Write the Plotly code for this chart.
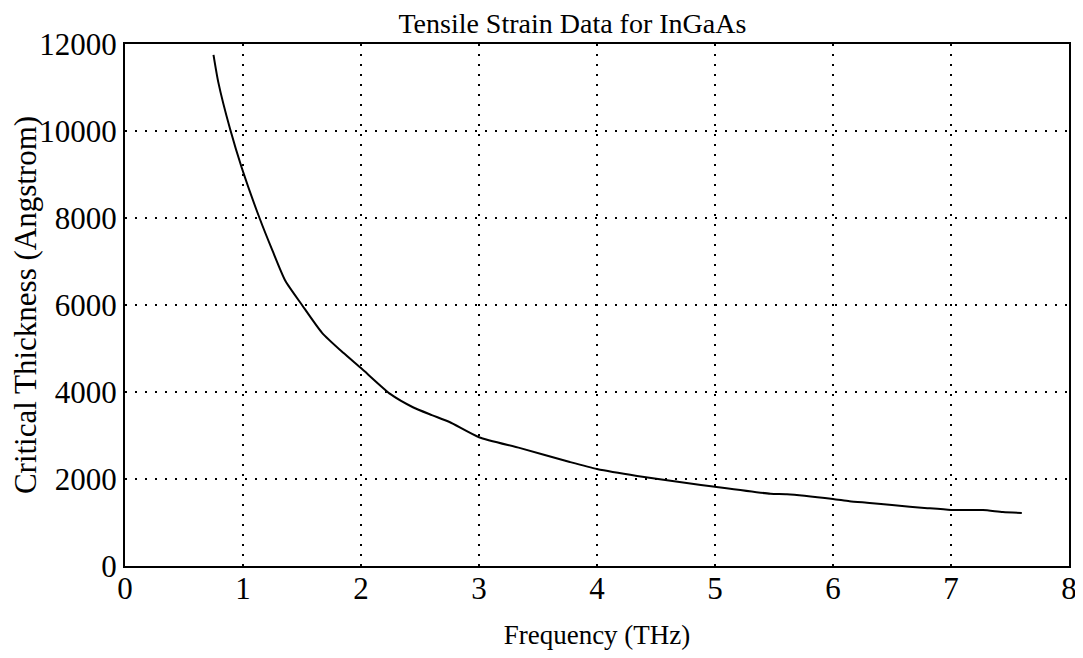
import plotly.graph_objects as go

freq_thz = [0.75, 0.79, 0.89, 0.99, 1.14, 1.25, 1.36, 1.5, 1.67, 1.85, 2.0, 2.25, 2.44,
            2.6, 2.75, 3.0, 3.35, 3.77, 4.0, 4.34, 4.76, 5.0, 5.47, 5.61, 6.0, 6.14,
            6.31, 6.5, 6.8, 7.0, 7.27, 7.44, 7.6]
thickness_ang = [11750, 11130, 10050, 9150, 8000, 7250, 6550, 6000, 5360, 4900, 4550, 3950, 3650,
                 3470, 3310, 2960, 2710, 2390, 2230, 2070, 1910, 1820, 1660, 1650, 1540, 1490,
                 1450, 1400, 1330, 1290, 1285, 1240, 1220]

x_ticks = [0, 1, 2, 3, 4, 5, 6, 7, 8]
y_ticks = [0, 2000, 4000, 6000, 8000, 10000, 12000]

font_family = "Liberation Serif, Times New Roman, serif"

fig = go.Figure()
fig.add_trace(go.Scatter(x=freq_thz, y=thickness_ang, mode="lines", line_shape="spline",
                         line=dict(color="black", width=2, smoothing=0.6), showlegend=False))

fig.update_layout(
    width=1075, height=650,
    margin=dict(l=117, r=14, t=36, b=92),
    paper_bgcolor="white", plot_bgcolor="white",
    font=dict(family=font_family, color="black", size=28),
    title=dict(text="Tensile Strain Data for InGaAs", x=0.525, xanchor="center",
               y=0.976, yanchor="middle", font=dict(size=28)),
)
fig.update_xaxes(
    range=[0, 8], tickvals=x_ticks, ticktext=[str(v) for v in x_ticks],
    showgrid=True, gridcolor="black", griddash="2px,8px", gridwidth=1.5,
    showline=True, linecolor="black", linewidth=2, mirror=True,
    ticks="", zeroline=False, tickfont=dict(size=31), automargin=False,
    ticklabelstandoff=-6,
    title=dict(text="Frequency (THz)", font=dict(size=27), standoff=20),
)
fig.update_yaxes(
    range=[0, 12000], tickvals=y_ticks, ticktext=[str(v) for v in y_ticks],
    showgrid=True, gridcolor="black", griddash="2px,8px", gridwidth=1.5,
    showline=True, linecolor="black", linewidth=2, mirror=True,
    ticks="", zeroline=False, tickfont=dict(size=31), automargin=False,
    title=dict(text="Critical Thickness (Angstrom)", font=dict(size=31), standoff=4),
)

fig.write_html("out.html")
